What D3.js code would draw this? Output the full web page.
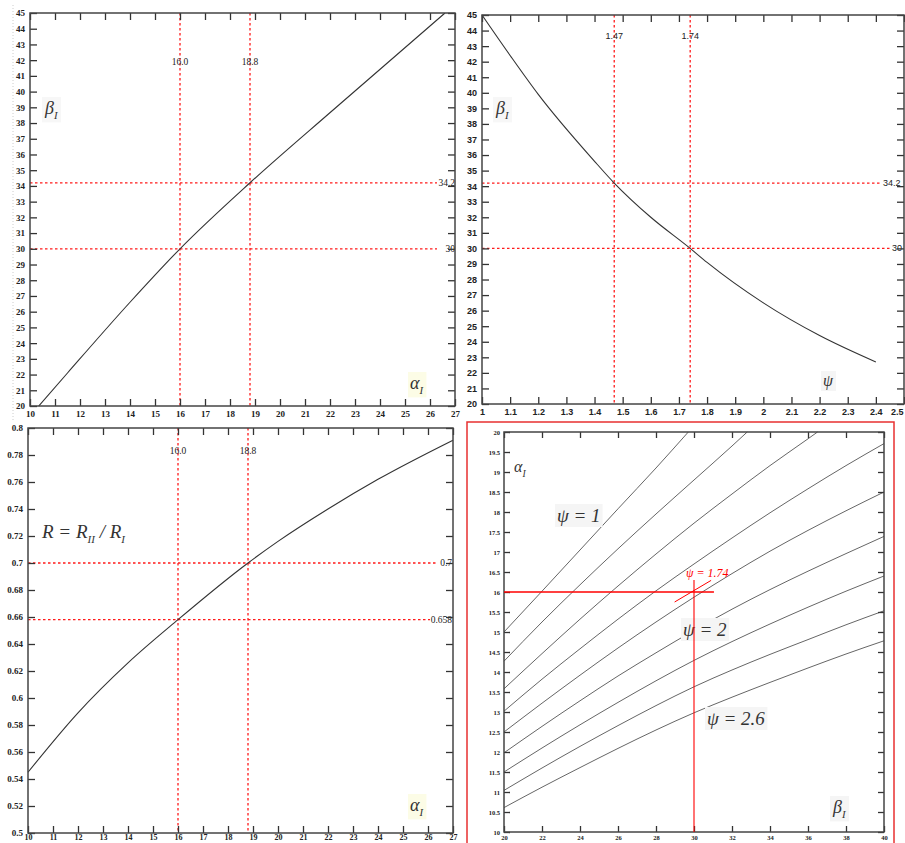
<!DOCTYPE html>
<html>
<head>
<meta charset="utf-8">
<script src="https://cdn.jsdelivr.net/npm/d3@7"></script>
<style>
  body { margin: 0; background: #fff; }
  .tick text { font-family: "Liberation Serif", serif; font-weight: bold; fill: #222; }
  .tick line { stroke: #333; stroke-width: 1.3; }
  .sans .tick text { font-family: "Liberation Sans", sans-serif; }
  .ref { fill: none; stroke: #ff1a1a; stroke-width: 1.3; stroke-dasharray: 2.5,2.5; }
  .curve { fill: none; stroke: #333; stroke-width: 1.1; }
  .psi { fill: none; stroke: #666; stroke-width: 1; }
  .mark { font-family: "Liberation Serif", serif; font-size: 9.5px; fill: #222; }
  .lab { font-family: "Liberation Serif", serif; font-style: italic; fill: #333; }
</style>
</head>
<body>
<svg id="mySvg" width="905" height="843"></svg>
<script>
// top left: beta1 against alpha1
let alphaA = [10.35, 11.5, 14, 16, 18.8, 22.1, 26.6];
let betaA = [20, 22.1, 26.6, 30, 34.2, 38.8, 45];

// top right: beta1 against psi
let psiB = [1, 1.1, 1.2, 1.4, 1.47, 1.6, 1.74, 1.8, 2.0, 2.2, 2.4];
let betaB = [45, 42.4, 39.9, 35.6, 34.2, 32.0, 30, 29.1, 26.5, 24.4, 22.7];

// bottom left: R = R_II / R_I against alpha1
let alphaC = [10, 12, 14, 16, 18.8, 20, 22, 24, 27];
let ratioC = [0.545, 0.589, 0.626, 0.658, 0.7, 0.716, 0.74, 0.762, 0.791];

// bottom right: alpha1 against beta1, one line per psi
let psiValues = [1, 1.2, 1.4, 1.6, 1.8, 2.0, 2.2, 2.4, 2.6];
let betaGrid = [20, 22, 24, 26, 28, 30, 32, 34, 36, 38, 40];
let psiBetas = [
    [20, 22, 24, 26, 28, 29.7],
    [20, 22, 24, 26, 28, 30, 32, 32.8],
    [20, 22, 24, 26, 28, 30, 32, 34, 36, 36.5],
    betaGrid, betaGrid, betaGrid, betaGrid, betaGrid, betaGrid
];
let psiAlphas = [
    [15.0, 16.02, 17.05, 18.08, 19.1, 20.0],
    [14.27, 15.25, 16.18, 17.08, 17.95, 18.8, 19.65, 20.0],
    [13.58, 14.46, 15.32, 16.15, 16.95, 17.72, 18.45, 19.16, 19.83, 20.0],
    [13.02, 13.82, 14.58, 15.32, 16.03, 16.7, 17.35, 17.98, 18.58, 19.16, 19.71],
    [12.5, 13.22, 13.92, 14.6, 15.25, 15.87, 16.46, 17.02, 17.54, 18.03, 18.5],
    [11.98, 12.64, 13.28, 13.9, 14.48, 15.04, 15.57, 16.06, 16.52, 16.96, 17.39],
    [11.5, 12.1, 12.68, 13.24, 13.78, 14.29, 14.76, 15.2, 15.62, 16.02, 16.4],
    [11.04, 11.6, 12.14, 12.66, 13.16, 13.63, 14.05, 14.44, 14.81, 15.18, 15.53],
    [10.61, 11.12, 11.61, 12.09, 12.55, 12.98, 13.37, 13.74, 14.1, 14.45, 14.78]
];

// tick values
let alphaTicks = d3.range(10, 28, 1);
let betaTicks = d3.range(20, 46, 1);
let psiTicks = d3.range(10, 26, 1).map(d => d / 10);
let ratioTicks = d3.range(25, 41, 1).map(d => d / 50);
let betaTicks4 = d3.range(20, 41, 2);
let alphaTicks4 = d3.range(20, 41, 1).map(d => d / 2);

let svg = d3.select("#mySvg");
let tickLen = 7;

// draws frame + inward ticks on all four sides
function frame(g, x, y, xt, yt, fmtX, fmtY, fs, pad, tl, padX) {
    let xr = x.range(), yr = y.range();
    g.append("g")
        .attr("class", "xaxis")
        .attr("transform", "translate(0," + yr[0] + ")")
        .call(d3.axisBottom(x).tickValues(xt).tickSize(-tl).tickSizeOuter(0).tickPadding(padX == null ? pad : padX).tickFormat(fmtX))
        .call(a => a.select(".domain").remove())
        .selectAll("text").style("font-size", fs + "px");
    g.append("g")
        .attr("transform", "translate(0," + yr[1] + ")")
        .call(d3.axisTop(x).tickValues(xt).tickSize(-tl).tickSizeOuter(0).tickFormat(""))
        .call(a => a.select(".domain").remove());
    g.append("g")
        .attr("transform", "translate(" + xr[0] + ",0)")
        .call(d3.axisLeft(y).tickValues(yt).tickSize(-tl).tickSizeOuter(0).tickPadding(pad).tickFormat(fmtY))
        .call(a => a.select(".domain").remove())
        .selectAll("text").style("font-size", fs + "px");
    g.append("g")
        .attr("transform", "translate(" + xr[1] + ",0)")
        .call(d3.axisRight(y).tickValues(yt).tickSize(-tl).tickSizeOuter(0).tickFormat(""))
        .call(a => a.select(".domain").remove());
    g.append("rect")
        .attr("x", xr[0]).attr("y", yr[1])
        .attr("width", xr[1] - xr[0]).attr("height", yr[0] - yr[1])
        .attr("fill", "none").attr("stroke", "#444").attr("stroke-width", 1.5);
}

function label(g, x, y, main, sub, size, bg) {
    let t = g.append("text").attr("class", "lab").attr("x", x).attr("y", y).style("font-size", size + "px");
    t.append("tspan").text(main);
    if (sub) t.append("tspan").attr("dy", size * 0.3).style("font-size", (size * 0.6) + "px").text(sub);
    if (bg) {
        let b = t.node().getBBox();
        g.insert("rect", () => t.node()).attr("x", b.x - 2).attr("y", b.y - 1)
            .attr("width", b.width + 4).attr("height", b.height + 2).attr("fill", bg);
    }
    return t;
}

let fmt0 = d3.format("d");
let fmtG = d => String(+d.toFixed(2));

// ---------- panel 1 ----------
let x1 = d3.scaleLinear().domain([10, 27]).range([30, 455]);
let y1 = d3.scaleLinear().domain([20, 45]).range([406, 13]);
let p1 = svg.append("g");

p1.append("line").attr("x1", 13).attr("x2", 13).attr("y1", 5).attr("y2", 420)
    .attr("stroke", "#ccc").attr("stroke-dasharray", "1,2");

[16.0, 18.8].forEach(v => {
    p1.append("line").attr("class", "ref").attr("x1", x1(v)).attr("x2", x1(v)).attr("y1", y1(45)).attr("y2", y1(20));
    p1.append("text").attr("class", "mark").attr("x", x1(v)).attr("y", 65).attr("text-anchor", "middle").text(v.toFixed(1));
});
[[34.2, "34.2"], [30, "30"]].forEach(v => {
    p1.append("line").attr("class", "ref").attr("x1", x1(10)).attr("x2", 437).attr("y1", y1(v[0])).attr("y2", y1(v[0]));
    p1.append("text").attr("class", "mark").attr("x", 455).attr("y", y1(v[0]) + 3).attr("text-anchor", "end").text(v[1]);
});

p1.append("path")
    .datum(alphaA.map((a, i) => [a, betaA[i]]))
    .attr("class", "curve")
    .attr("d", d3.line().x(d => x1(d[0])).y(d => y1(d[1])).curve(d3.curveMonotoneX));

frame(p1, x1, y1, alphaTicks, betaTicks, fmt0, fmt0, 9, 5, tickLen);
label(p1, 45, 114, "β", "I", 18, "#f7f7f7");
label(p1, 410, 389, "α", "I", 18, "#fcfce6");

// ---------- panel 2 ----------
let x2 = d3.scaleLinear().domain([1, 2.5]).range([482, 904]);
let y2 = d3.scaleLinear().domain([20, 45]).range([404, 15]);
let p2 = svg.append("g").attr("class", "sans");

[[1.47, "1.47"], [1.74, "1.74"]].forEach(v => {
    p2.append("line").attr("class", "ref").attr("x1", x2(v[0])).attr("x2", x2(v[0])).attr("y1", y2(45)).attr("y2", y2(20));
    p2.append("text").attr("class", "mark").style("font-family", "Liberation Sans, sans-serif").style("font-size", "9px")
        .attr("x", x2(v[0])).attr("y", 39).attr("text-anchor", "middle").text(v[1]);
});
[[34.2, "34.2", 882], [30, "30", 891]].forEach(v => {
    p2.append("line").attr("class", "ref").attr("x1", x2(1)).attr("x2", v[2]).attr("y1", y2(v[0])).attr("y2", y2(v[0]));
    p2.append("text").attr("class", "mark").style("font-family", "Liberation Sans, sans-serif").style("font-size", "9px")
        .attr("x", v[2] + 1).attr("y", y2(v[0]) + 3).text(v[1]);
});

p2.append("path")
    .datum(psiB.map((p, i) => [p, betaB[i]]))
    .attr("class", "curve")
    .attr("d", d3.line().x(d => x2(d[0])).y(d => y2(d[1])).curve(d3.curveMonotoneX));

frame(p2, x2, y2, psiTicks, betaTicks, fmtG, fmt0, 9, 5, tickLen);
// last tick label sits at the window edge
p2.select(".xaxis").selectAll(".tick text").filter(d => d === 2.5).attr("text-anchor", "end").attr("dx", -1);
label(p2, 496, 114, "β", "I", 18, "#f7f7f7");
label(p2, 823, 386, "ψ", null, 16, "#f5f5f5");

// ---------- panel 3 ----------
let x3 = d3.scaleLinear().domain([10, 27]).range([28, 453]);
let y3 = d3.scaleLinear().domain([0.5, 0.8]).range([833, 428]);
let p3 = svg.append("g");

[16.0, 18.8].forEach(v => {
    p3.append("line").attr("class", "ref").attr("x1", x3(v)).attr("x2", x3(v)).attr("y1", y3(0.8)).attr("y2", y3(0.5));
    p3.append("text").attr("class", "mark").attr("x", x3(v)).attr("y", 454).attr("text-anchor", "middle").text(v.toFixed(1));
});
[[0.7, "0.7", 438], [0.658, "0.658", 430]].forEach(v => {
    p3.append("line").attr("class", "ref").attr("x1", x3(10)).attr("x2", v[2]).attr("y1", y3(v[0])).attr("y2", y3(v[0]));
    p3.append("text").attr("class", "mark").attr("x", 452).attr("y", y3(v[0]) + 3).attr("text-anchor", "end").text(v[1]);
});

p3.append("path")
    .datum(alphaC.map((a, i) => [a, ratioC[i]]))
    .attr("class", "curve")
    .attr("d", d3.line().x(d => x3(d[0])).y(d => y3(d[1])).curve(d3.curveMonotoneX));

frame(p3, x3, y3, alphaTicks, ratioTicks, fmt0, fmtG, 9, 5, tickLen, 1);
p3.select(".xaxis").selectAll("text").style("font-size", "8px");

let rl = p3.append("text").attr("class", "lab").attr("x", 42).attr("y", 538).style("font-size", "19px");
rl.append("tspan").text("R = R");
rl.append("tspan").attr("dy", 5).style("font-size", "11px").text("II");
rl.append("tspan").attr("dy", -5).text(" / R");
rl.append("tspan").attr("dy", 5).style("font-size", "11px").text("I");
label(p3, 410, 811, "α", "I", 18, "#fcfce6");

// ---------- panel 4 ----------
let x4 = d3.scaleLinear().domain([20, 40]).range([504, 884]);
let y4 = d3.scaleLinear().domain([10, 20]).range([832, 432]);
let p4 = svg.append("g");

p4.append("rect").attr("x", 467).attr("y", 422).attr("width", 427).attr("height", 430)
    .attr("fill", "none").attr("stroke", "#e83030").attr("stroke-width", 1.5);

psiValues.forEach((p, k) => {
    p4.append("path")
        .datum(psiBetas[k].map((b, i) => [b, psiAlphas[k][i]]))
        .attr("class", "psi")
        .attr("d", d3.line().x(d => x4(d[0])).y(d => y4(d[1])).curve(d3.curveMonotoneX));
});

frame(p4, x4, y4, betaTicks4, alphaTicks4, fmt0, fmtG, 6.5, 4, 6, 3);

label(p4, 557, 522, "ψ = 1", null, 19, "#f5f5f5");
label(p4, 683, 636, "ψ = 2", null, 19, "#f5f5f5");
label(p4, 707, 725, "ψ = 2.6", null, 19, "#f5f5f5");
label(p4, 514, 472, "α", "I", 16, null);
label(p4, 833, 813, "β", "I", 18, "#f5f5f5");

// red construction for psi = 1.74, drawn over the labels
p4.append("line").attr("x1", x4(20)).attr("x2", x4(31.05)).attr("y1", y4(16)).attr("y2", y4(16))
    .attr("stroke", "red").attr("stroke-width", 1.3);
p4.append("line").attr("x1", x4(30)).attr("x2", x4(30)).attr("y1", y4(16.3)).attr("y2", y4(10))
    .attr("stroke", "red").attr("stroke-width", 1.1);
p4.append("line").attr("x1", x4(28.98)).attr("x2", x4(30.9)).attr("y1", y4(15.75)).attr("y2", y4(16.29))
    .attr("stroke", "red").attr("stroke-width", 1);
p4.append("text").attr("class", "lab").attr("x", 686).attr("y", 577).style("font-size", "12px")
    .style("fill", "red").text("ψ = 1.74");
</script>
</body>
</html>
